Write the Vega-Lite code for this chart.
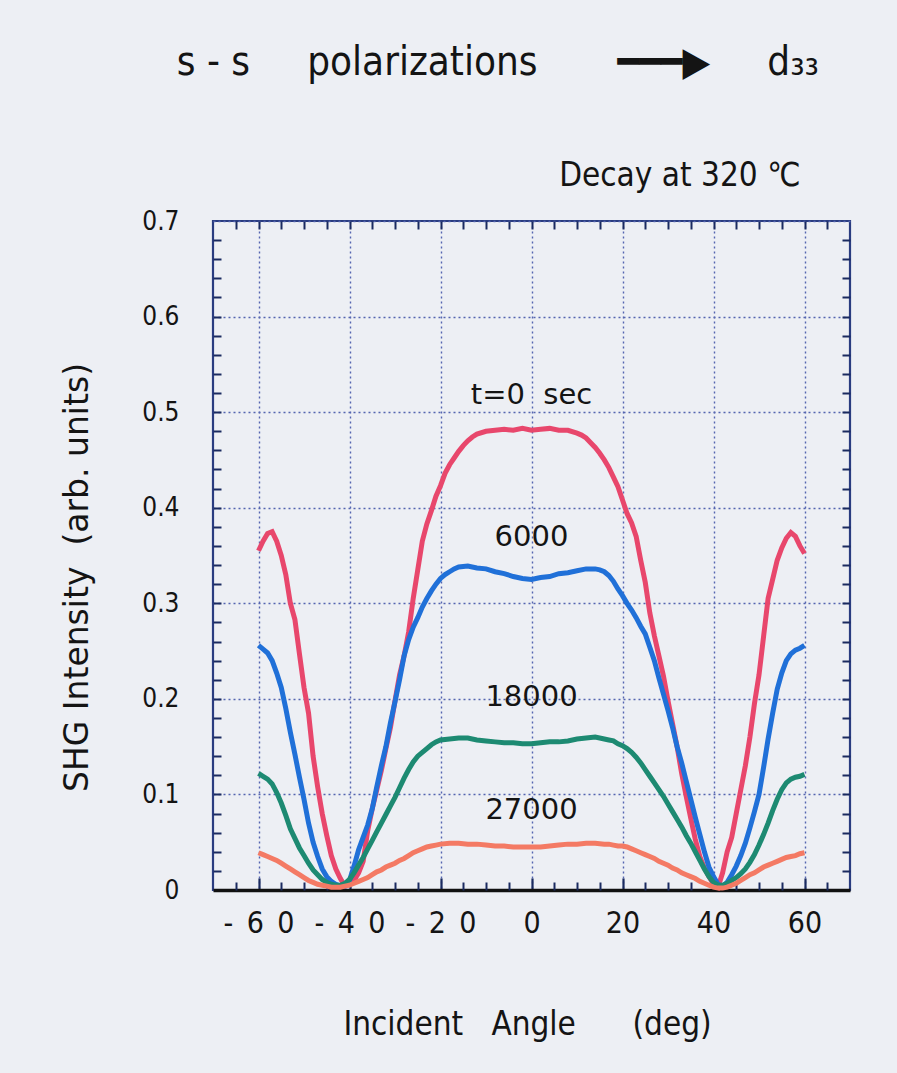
{
  "$schema": "https://vega.github.io/schema/vega-lite/v6.json",
  "width": 637,
  "height": 669,
  "autosize": "none",
  "padding": {"left": 213, "top": 221, "right": 47, "bottom": 183},
  "background": "#edeff4",
  "config": {"view": {"stroke": "#2a3c80", "strokeWidth": 2.2}, "font": "DejaVu Sans"},
  "title": {
    "text": "s - s\u00a0\u00a0\u00a0\u00a0\u00a0polarizations\u00a0\u00a0\u00a0\u00a0\u00a0\u00a0\u00a0━━━▶\u00a0\u00a0\u00a0\u00a0\u00a0d₃₃",
    "anchor": "end",
    "dx": -32,
    "offset": 76,
    "font": "DejaVu Sans Condensed, sans-serif",
    "fontSize": 40,
    "fontWeight": "normal",
    "color": "#141414"
  },
  "datasets": {
    "t0": [
      {"a":-60,"v":0.355},{"a":-59,"v":0.365},{"a":-58,"v":0.373},{"a":-57,"v":0.375},{"a":-56,"v":0.365},{"a":-55,"v":0.35},{"a":-54,"v":0.33},{"a":-53,"v":0.3},{"a":-52,"v":0.283},{"a":-51,"v":0.247},{"a":-50,"v":0.212},{"a":-49,"v":0.185},{"a":-48,"v":0.14},{"a":-47,"v":0.108},{"a":-46,"v":0.08},{"a":-45,"v":0.057},{"a":-44,"v":0.036},{"a":-43,"v":0.022},{"a":-42,"v":0.012},{"a":-41,"v":0.004},{"a":-40,"v":0.006},{"a":-39,"v":0.01},{"a":-38,"v":0.018},{"a":-37,"v":0.03},{"a":-36,"v":0.062},{"a":-35,"v":0.085},{"a":-34,"v":0.105},{"a":-33,"v":0.125},{"a":-32,"v":0.148},{"a":-31,"v":0.17},{"a":-30,"v":0.198},{"a":-29,"v":0.225},{"a":-28,"v":0.245},{"a":-27,"v":0.27},{"a":-26,"v":0.305},{"a":-25,"v":0.335},{"a":-24,"v":0.365},{"a":-23,"v":0.383},{"a":-22,"v":0.397},{"a":-21,"v":0.412},{"a":-20,"v":0.423},{"a":-19,"v":0.436},{"a":-18,"v":0.445},{"a":-17,"v":0.452},{"a":-16,"v":0.459},{"a":-15,"v":0.465},{"a":-14,"v":0.47},{"a":-13,"v":0.474},{"a":-12,"v":0.477},{"a":-10,"v":0.48},{"a":-8,"v":0.481},{"a":-6,"v":0.482},{"a":-4,"v":0.481},{"a":-2,"v":0.483},{"a":0,"v":0.481},{"a":2,"v":0.482},{"a":4,"v":0.483},{"a":6,"v":0.481},{"a":8,"v":0.481},{"a":10,"v":0.478},{"a":11,"v":0.476},{"a":12,"v":0.473},{"a":13,"v":0.468},{"a":14,"v":0.463},{"a":15,"v":0.457},{"a":16,"v":0.45},{"a":17,"v":0.442},{"a":18,"v":0.432},{"a":19,"v":0.422},{"a":20,"v":0.408},{"a":21,"v":0.394},{"a":22,"v":0.384},{"a":23,"v":0.37},{"a":24,"v":0.345},{"a":25,"v":0.322},{"a":26,"v":0.29},{"a":27,"v":0.266},{"a":28,"v":0.245},{"a":29,"v":0.224},{"a":30,"v":0.198},{"a":31,"v":0.174},{"a":32,"v":0.15},{"a":33,"v":0.122},{"a":34,"v":0.098},{"a":35,"v":0.075},{"a":36,"v":0.053},{"a":37,"v":0.035},{"a":38,"v":0.023},{"a":39,"v":0.014},{"a":40,"v":0.006},{"a":41,"v":0.003},{"a":42,"v":0.018},{"a":43,"v":0.04},{"a":44,"v":0.055},{"a":45,"v":0.08},{"a":46,"v":0.105},{"a":47,"v":0.13},{"a":48,"v":0.16},{"a":49,"v":0.195},{"a":50,"v":0.225},{"a":51,"v":0.265},{"a":52,"v":0.305},{"a":53,"v":0.325},{"a":54,"v":0.345},{"a":55,"v":0.358},{"a":56,"v":0.368},{"a":57,"v":0.374},{"a":58,"v":0.37},{"a":59,"v":0.36},{"a":60,"v":0.352}
    ],
    "t6": [
      {"a":-60,"v":0.256},{"a":-59,"v":0.252},{"a":-58,"v":0.248},{"a":-57,"v":0.24},{"a":-56,"v":0.227},{"a":-55,"v":0.212},{"a":-54,"v":0.19},{"a":-53,"v":0.165},{"a":-52,"v":0.142},{"a":-51,"v":0.118},{"a":-50,"v":0.095},{"a":-49,"v":0.07},{"a":-48,"v":0.05},{"a":-47,"v":0.035},{"a":-46,"v":0.022},{"a":-45,"v":0.014},{"a":-44,"v":0.009},{"a":-43,"v":0.006},{"a":-42,"v":0.004},{"a":-41,"v":0.004},{"a":-40,"v":0.01},{"a":-39,"v":0.025},{"a":-38,"v":0.042},{"a":-37,"v":0.055},{"a":-36,"v":0.068},{"a":-35,"v":0.085},{"a":-34,"v":0.108},{"a":-33,"v":0.13},{"a":-32,"v":0.15},{"a":-31,"v":0.175},{"a":-30,"v":0.197},{"a":-29,"v":0.22},{"a":-28,"v":0.245},{"a":-27,"v":0.262},{"a":-26,"v":0.275},{"a":-25,"v":0.285},{"a":-24,"v":0.296},{"a":-23,"v":0.305},{"a":-22,"v":0.313},{"a":-21,"v":0.32},{"a":-20,"v":0.326},{"a":-19,"v":0.33},{"a":-18,"v":0.333},{"a":-17,"v":0.336},{"a":-16,"v":0.338},{"a":-14,"v":0.339},{"a":-12,"v":0.337},{"a":-10,"v":0.336},{"a":-8,"v":0.333},{"a":-6,"v":0.331},{"a":-4,"v":0.328},{"a":-2,"v":0.326},{"a":0,"v":0.325},{"a":2,"v":0.327},{"a":4,"v":0.328},{"a":6,"v":0.331},{"a":8,"v":0.332},{"a":10,"v":0.334},{"a":12,"v":0.336},{"a":14,"v":0.336},{"a":15,"v":0.335},{"a":16,"v":0.333},{"a":17,"v":0.329},{"a":18,"v":0.323},{"a":19,"v":0.315},{"a":20,"v":0.308},{"a":21,"v":0.3},{"a":22,"v":0.293},{"a":23,"v":0.285},{"a":24,"v":0.276},{"a":25,"v":0.268},{"a":26,"v":0.254},{"a":27,"v":0.24},{"a":28,"v":0.222},{"a":29,"v":0.205},{"a":30,"v":0.188},{"a":31,"v":0.17},{"a":32,"v":0.15},{"a":33,"v":0.133},{"a":34,"v":0.114},{"a":35,"v":0.095},{"a":36,"v":0.076},{"a":37,"v":0.058},{"a":38,"v":0.04},{"a":39,"v":0.024},{"a":40,"v":0.014},{"a":41,"v":0.006},{"a":42,"v":0.004},{"a":43,"v":0.008},{"a":44,"v":0.016},{"a":45,"v":0.025},{"a":46,"v":0.036},{"a":47,"v":0.049},{"a":48,"v":0.065},{"a":49,"v":0.082},{"a":50,"v":0.1},{"a":51,"v":0.128},{"a":52,"v":0.158},{"a":53,"v":0.185},{"a":54,"v":0.21},{"a":55,"v":0.227},{"a":56,"v":0.24},{"a":57,"v":0.247},{"a":58,"v":0.251},{"a":59,"v":0.253},{"a":60,"v":0.256}
    ],
    "t18": [
      {"a":-60,"v":0.122},{"a":-59,"v":0.119},{"a":-58,"v":0.116},{"a":-57,"v":0.111},{"a":-56,"v":0.102},{"a":-55,"v":0.091},{"a":-54,"v":0.078},{"a":-53,"v":0.064},{"a":-52,"v":0.054},{"a":-51,"v":0.044},{"a":-50,"v":0.036},{"a":-49,"v":0.028},{"a":-48,"v":0.021},{"a":-47,"v":0.016},{"a":-46,"v":0.011},{"a":-45,"v":0.008},{"a":-44,"v":0.006},{"a":-43,"v":0.005},{"a":-42,"v":0.005},{"a":-41,"v":0.007},{"a":-40,"v":0.011},{"a":-39,"v":0.018},{"a":-38,"v":0.026},{"a":-37,"v":0.034},{"a":-36,"v":0.043},{"a":-35,"v":0.052},{"a":-34,"v":0.061},{"a":-33,"v":0.07},{"a":-32,"v":0.079},{"a":-31,"v":0.088},{"a":-30,"v":0.097},{"a":-29,"v":0.107},{"a":-28,"v":0.117},{"a":-27,"v":0.126},{"a":-26,"v":0.134},{"a":-25,"v":0.14},{"a":-24,"v":0.144},{"a":-23,"v":0.148},{"a":-22,"v":0.152},{"a":-21,"v":0.155},{"a":-20,"v":0.157},{"a":-18,"v":0.158},{"a":-16,"v":0.159},{"a":-14,"v":0.159},{"a":-12,"v":0.157},{"a":-10,"v":0.156},{"a":-8,"v":0.155},{"a":-6,"v":0.154},{"a":-4,"v":0.154},{"a":-2,"v":0.153},{"a":0,"v":0.153},{"a":2,"v":0.154},{"a":4,"v":0.155},{"a":6,"v":0.155},{"a":8,"v":0.156},{"a":10,"v":0.158},{"a":12,"v":0.159},{"a":14,"v":0.16},{"a":16,"v":0.158},{"a":17,"v":0.157},{"a":18,"v":0.156},{"a":19,"v":0.153},{"a":20,"v":0.151},{"a":21,"v":0.148},{"a":22,"v":0.144},{"a":23,"v":0.139},{"a":24,"v":0.133},{"a":25,"v":0.126},{"a":26,"v":0.119},{"a":27,"v":0.112},{"a":28,"v":0.105},{"a":29,"v":0.098},{"a":30,"v":0.09},{"a":31,"v":0.082},{"a":32,"v":0.074},{"a":33,"v":0.066},{"a":34,"v":0.057},{"a":35,"v":0.049},{"a":36,"v":0.04},{"a":37,"v":0.031},{"a":38,"v":0.022},{"a":39,"v":0.014},{"a":40,"v":0.008},{"a":41,"v":0.005},{"a":42,"v":0.005},{"a":43,"v":0.007},{"a":44,"v":0.01},{"a":45,"v":0.013},{"a":46,"v":0.017},{"a":47,"v":0.022},{"a":48,"v":0.029},{"a":49,"v":0.037},{"a":50,"v":0.047},{"a":51,"v":0.058},{"a":52,"v":0.07},{"a":53,"v":0.083},{"a":54,"v":0.095},{"a":55,"v":0.105},{"a":56,"v":0.112},{"a":57,"v":0.116},{"a":58,"v":0.118},{"a":59,"v":0.119},{"a":60,"v":0.121}
    ],
    "t27": [
      {"a":-60,"v":0.039},{"a":-59,"v":0.037},{"a":-58,"v":0.035},{"a":-57,"v":0.033},{"a":-56,"v":0.031},{"a":-55,"v":0.028},{"a":-54,"v":0.025},{"a":-53,"v":0.022},{"a":-52,"v":0.019},{"a":-51,"v":0.016},{"a":-50,"v":0.013},{"a":-49,"v":0.01},{"a":-48,"v":0.008},{"a":-47,"v":0.006},{"a":-46,"v":0.005},{"a":-45,"v":0.004},{"a":-44,"v":0.003},{"a":-43,"v":0.003},{"a":-42,"v":0.003},{"a":-41,"v":0.004},{"a":-40,"v":0.005},{"a":-39,"v":0.007},{"a":-38,"v":0.009},{"a":-37,"v":0.011},{"a":-36,"v":0.013},{"a":-35,"v":0.016},{"a":-34,"v":0.019},{"a":-33,"v":0.021},{"a":-32,"v":0.024},{"a":-31,"v":0.026},{"a":-30,"v":0.028},{"a":-29,"v":0.031},{"a":-28,"v":0.033},{"a":-27,"v":0.036},{"a":-26,"v":0.039},{"a":-25,"v":0.041},{"a":-24,"v":0.043},{"a":-23,"v":0.045},{"a":-22,"v":0.046},{"a":-21,"v":0.047},{"a":-20,"v":0.048},{"a":-18,"v":0.049},{"a":-16,"v":0.049},{"a":-14,"v":0.048},{"a":-12,"v":0.048},{"a":-10,"v":0.047},{"a":-8,"v":0.046},{"a":-6,"v":0.046},{"a":-4,"v":0.045},{"a":-2,"v":0.045},{"a":0,"v":0.045},{"a":2,"v":0.045},{"a":4,"v":0.046},{"a":6,"v":0.047},{"a":8,"v":0.048},{"a":10,"v":0.048},{"a":12,"v":0.049},{"a":14,"v":0.049},{"a":16,"v":0.048},{"a":17,"v":0.048},{"a":18,"v":0.047},{"a":19,"v":0.046},{"a":20,"v":0.046},{"a":21,"v":0.045},{"a":22,"v":0.043},{"a":23,"v":0.041},{"a":24,"v":0.039},{"a":25,"v":0.037},{"a":26,"v":0.035},{"a":27,"v":0.033},{"a":28,"v":0.03},{"a":29,"v":0.028},{"a":30,"v":0.026},{"a":31,"v":0.023},{"a":32,"v":0.021},{"a":33,"v":0.018},{"a":34,"v":0.016},{"a":35,"v":0.014},{"a":36,"v":0.012},{"a":37,"v":0.009},{"a":38,"v":0.007},{"a":39,"v":0.005},{"a":40,"v":0.003},{"a":41,"v":0.002},{"a":42,"v":0.002},{"a":43,"v":0.003},{"a":44,"v":0.005},{"a":45,"v":0.007},{"a":46,"v":0.01},{"a":47,"v":0.013},{"a":48,"v":0.016},{"a":49,"v":0.018},{"a":50,"v":0.021},{"a":51,"v":0.024},{"a":52,"v":0.026},{"a":53,"v":0.028},{"a":54,"v":0.03},{"a":55,"v":0.032},{"a":56,"v":0.034},{"a":57,"v":0.035},{"a":58,"v":0.036},{"a":59,"v":0.038},{"a":60,"v":0.039}
    ],
    "labels": [
      {"a":0,"v":0.518,"txt":"t=0\u00a0\u00a0sec"},
      {"a":0,"v":0.369,"txt":"6000"},
      {"a":0,"v":0.202,"txt":"18000"},
      {"a":0,"v":0.084,"txt":"27000"}
    ]
  },
  "resolve": {"axis": {"x": "independent", "y": "independent"}},
  "layer": [
    {
      "data": {"name": "t0"},
      "mark": {"type": "line", "color": "#e8476c", "strokeWidth": 5},
      "encoding": {
        "x": {"field": "a", "type": "quantitative", "scale": {"domain": [-70, 70], "nice": false, "zero": false},
          "axis": {"orient": "bottom", "values": [-60, -40, -20, 0, 20, 40, 60],
            "grid": true, "gridDash": [2, 3], "gridColor": "#5565b0", "gridWidth": 1.4,
            "ticks": true, "tickSize": -12, "tickColor": "#1a2a60", "tickWidth": 2.2,
            "domain": true, "domainColor": "#111111", "domainWidth": 3.5,
            "labelExpr": "datum.value == -60 ? '-\u20026\u20020' : datum.value == -40 ? '-\u20024\u20020' : datum.value == -20 ? '-\u20022\u20020' : datum.label",
            "labelFont": "DejaVu Sans Condensed, DejaVu Sans", "labelFontSize": 30, "labelColor": "#141414", "labelPadding": 30,
            "title": "Incident\u00a0\u00a0\u00a0Angle\u00a0\u00a0\u00a0\u00a0\u00a0\u00a0(deg)",
            "titleFont": "DejaVu Sans Condensed, sans-serif", "titleFontSize": 33, "titleFontWeight": "normal", "titleColor": "#141414",
            "titleX": 314, "titleY": 144, "titleBaseline": "alphabetic"}},
        "y": {"field": "v", "type": "quantitative", "scale": {"domain": [0, 0.7], "nice": false},
          "axis": {"orient": "left", "values": [0, 0.1, 0.2, 0.3, 0.4, 0.5, 0.6, 0.7],
            "grid": true, "gridDash": [2, 3], "gridColor": "#5565b0", "gridWidth": 1.4,
            "ticks": false, "domain": false,
            "labelExpr": "datum.value == 0 ? '0' : format(datum.value, '.1f')",
            "labelFont": "DejaVu Sans Condensed, DejaVu Sans", "labelFontSize": 26, "labelColor": "#141414", "labelPadding": 34,
            "title": "SHG Intensity\u00a0\u00a0(arb. units)",
            "titleFont": "DejaVu Sans", "titleFontSize": 33, "titleFontWeight": "normal", "titleColor": "#141414",
            "titleX": -126, "titleY": 356, "titleBaseline": "alphabetic"}}
      }
    },
    {
      "data": {"name": "t6"},
      "mark": {"type": "line", "color": "#2070d8", "strokeWidth": 5},
      "encoding": {
        "x": {"field": "a", "type": "quantitative",
          "axis": {"orient": "top", "values": [-65,-60,-55,-50,-45,-40,-35,-30,-25,-20,-15,-10,-5,0,5,10,15,20,25,30,35,40,45,50,55,60,65],
            "grid": false, "labels": false, "domain": false,
            "tickSize": -8, "tickColor": "#1a2a60", "tickWidth": 2,
            "title": "Decay at 320 ℃",
            "titleFont": "DejaVu Sans Condensed, sans-serif", "titleFontSize": 33, "titleFontWeight": "normal", "titleColor": "#141414",
            "titleX": 587, "titleY": -36, "titleAlign": "right", "titleBaseline": "alphabetic"}},
        "y": {"field": "v", "type": "quantitative",
          "axis": {"orient": "right", "values": [0.02,0.04,0.06,0.08,0.1,0.12,0.14,0.16,0.18,0.2,0.22,0.24,0.26,0.28,0.3,0.32,0.34,0.36,0.38,0.4,0.42,0.44,0.46,0.48,0.5,0.52,0.54,0.56,0.58,0.6,0.62,0.64,0.66,0.68],
            "grid": false, "labels": false, "domain": false, "title": null,
            "tickSize": -8, "tickColor": "#1a2a60", "tickWidth": 2}}
      }
    },
    {
      "data": {"name": "t18"},
      "mark": {"type": "line", "color": "#1d8a72", "strokeWidth": 5},
      "encoding": {
        "x": {"field": "a", "type": "quantitative",
          "axis": {"orient": "bottom", "values": [-65,-55,-50,-45,-35,-30,-25,-15,-10,-5,5,10,15,25,30,35,45,50,55,65],
            "grid": false, "labels": false, "domain": false, "title": null,
            "tickSize": -8, "tickColor": "#1a2a60", "tickWidth": 2}},
        "y": {"field": "v", "type": "quantitative",
          "axis": {"orient": "left", "values": [0.02,0.04,0.06,0.08,0.1,0.12,0.14,0.16,0.18,0.2,0.22,0.24,0.26,0.28,0.3,0.32,0.34,0.36,0.38,0.4,0.42,0.44,0.46,0.48,0.5,0.52,0.54,0.56,0.58,0.6,0.62,0.64,0.66,0.68],
            "grid": false, "labels": false, "domain": false, "title": null,
            "tickSize": -8, "tickColor": "#1a2a60", "tickWidth": 2}}
      }
    },
    {
      "data": {"name": "t27"},
      "mark": {"type": "line", "color": "#f47a64", "strokeWidth": 5},
      "encoding": {
        "x": {"field": "a", "type": "quantitative", "axis": null},
        "y": {"field": "v", "type": "quantitative", "axis": null}
      }
    },
    {
      "data": {"name": "labels"},
      "mark": {"type": "text", "font": "DejaVu Sans", "fontSize": 29, "color": "#141414", "align": "center", "baseline": "middle"},
      "encoding": {
        "x": {"field": "a", "type": "quantitative", "axis": null},
        "y": {"field": "v", "type": "quantitative", "axis": null},
        "text": {"field": "txt"}
      }
    }
  ]
}
